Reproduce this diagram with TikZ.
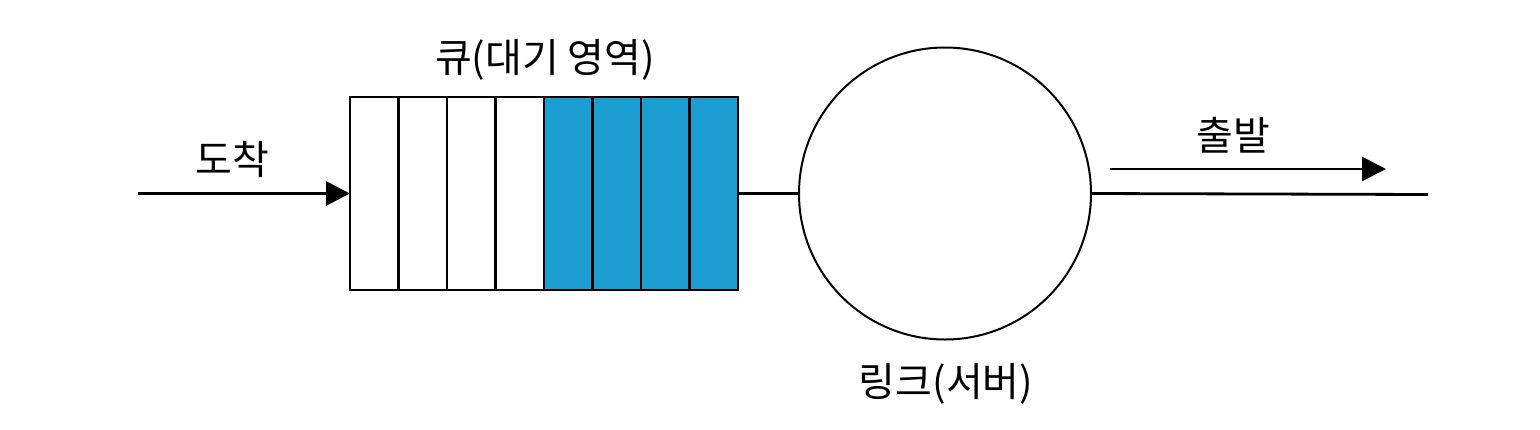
\documentclass[tikz,border=0pt]{standalone}
\usepackage{fontspec}
\newfontfamily\kr{Noto Sans CJK KR}
\usetikzlibrary{arrows.meta}
\definecolor{qblue}{RGB}{28,158,210}
\begin{document}
\begin{tikzpicture}[x=1pt,y=-1pt,
  cell/.style={draw=black,line width=2.2pt,minimum width=48.5pt,minimum height=193pt,inner sep=0pt,outer sep=0pt},
  full/.style={cell,fill=qblue},
  lbl/.style={font=\kr\fontsize{40}{46}\selectfont,inner sep=0pt},
  conn/.style={line width=2.8pt},
  tip/.style={-{Triangle[length=24pt,width=24pt]}}]
\useasboundingbox (0,0) rectangle (1540,429);
\foreach \i in {1,...,4} {
  \node[cell] (c\i) at ({350+48.5*(\i-0.5)},193.5) {};
}
\foreach \i in {5,...,8} {
  \node[full] (c\i) at ({350+48.5*(\i-0.5)},193.5) {};
}
\node[circle,draw=black,line width=2pt,minimum size=292pt,inner sep=0pt,outer sep=0pt] (srv) at (945,193.5) {};
\node[lbl] (lq) at (545,60) {큐(대기 영역)};
\node[lbl] (la) at (232,159) {도착};
\node[lbl] (ld) at (1233,135) {출발};
\node[lbl] (ls) at (946,384) {링크(서버)};
\coordinate (inStart) at (138,193.5);
\coordinate (outEnd) at (1428,194.5);
\coordinate (d1) at (1110,169);
\coordinate (d2) at (1386,169);
\draw[conn,tip] (inStart) -- (c1.west);
\draw[conn] (c8.east) -- (srv.west);
\draw[conn] (srv.east) -- (outEnd);
\draw[conn,tip] (d1) -- (d2);
\end{tikzpicture}
\end{document}
